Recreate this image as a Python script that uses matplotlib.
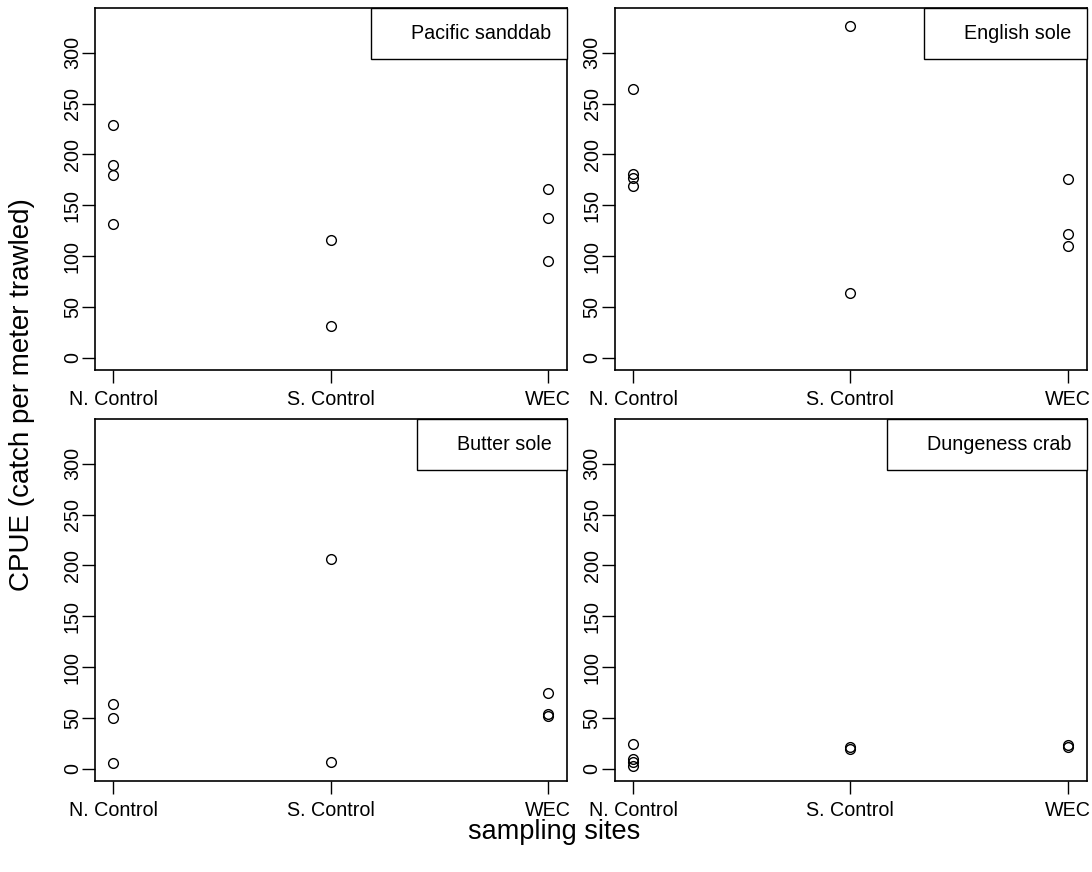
import matplotlib
matplotlib.use("Agg")
import matplotlib.pyplot as plt
from matplotlib.lines import Line2D

plt.rcParams['font.family'] = ['Liberation Sans', 'DejaVu Sans']

sites = ["N. Control", "S. Control", "WEC"]

# CPUE per trawl, one list per site (N. Control, S. Control, WEC)
sanddab = [[229, 190, 180, 132], [116, 31], [166, 137, 95]]
english_sole = [[264, 181, 177, 169], [326, 64], [176, 122, 110]]
butter_sole = [[64, 50, 6], [206, 7], [75, 54, 52]]
dungeness = [[24, 10, 7, 3], [21, 19], [23, 21]]

species = ["Pacific sanddab", "English sole", "Butter sole", "Dungeness crab"]
catches = [sanddab, english_sole, butter_sole, dungeness]
yticks = [0, 50, 100, 150, 200, 250, 300]

fig = plt.figure(figsize=(10.92, 8.72), dpi=100)
boxes = [(0.087, 0.5757), (0.563, 0.5757), (0.087, 0.1044), (0.563, 0.1044)]
w, h = 0.4325, 0.4151

fs = 14.2
for (x0, y0), name, data in zip(boxes, species, catches):
    ax = fig.add_axes([x0, y0, w, h])
    for i, vals in enumerate(data):
        ax.plot([i + 1] * len(vals), vals, 'o', mfc='none', mec='black',
                ms=7, mew=1.0, ls='none')
    ax.set_xlim(0.915, 3.09)
    ax.set_ylim(-12, 344)
    ax.set_xticks([1, 2, 3])
    ax.set_xticklabels(sites, fontsize=fs)
    ax.set_yticks(yticks)
    ax.set_yticklabels([str(v) for v in yticks], fontsize=fs, rotation=90,
                       va='center')
    ax.tick_params(length=9.5, width=1.0, direction='out')
    ax.tick_params(axis='y', pad=0)
    ax.tick_params(axis='x', pad=5)
    for s in ax.spines.values():
        s.set_linewidth(1.2)
    leg = ax.legend(handles=[Line2D([], [], ls='none')], labels=[name],
                    loc='upper right', borderaxespad=0, fancybox=False,
                    edgecolor='black', framealpha=1, fontsize=fs,
                    handlelength=0.8, handletextpad=0.43, borderpad=0.8)
    leg.get_frame().set_linewidth(1.0)

fig.text(0.02, 0.547, "CPUE (catch per meter trawled)", rotation=90,
         ha='center', va='center', fontsize=20)
fig.text(0.507, 0.046, "sampling sites", ha='center', va='center',
         fontsize=19.5)

fig.savefig("out.png", dpi=100)
